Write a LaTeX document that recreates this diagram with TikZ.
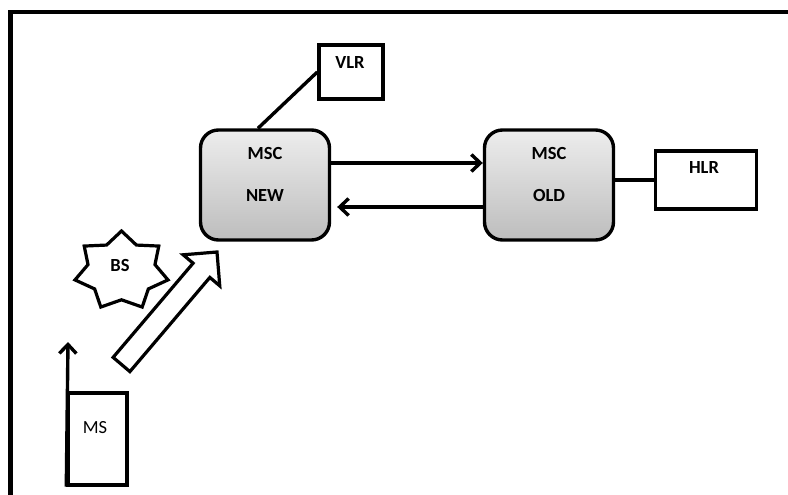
\documentclass[tikz,border=0pt]{standalone}
\usepackage{fontspec}
\setmainfont{Carlito}
\usetikzlibrary{arrows.meta,calc}
\definecolor{gtop}{HTML}{EDEDED}
\definecolor{gbot}{HTML}{BDBDBD}
\tikzset{
  frameline/.style={line width=4.2pt},
  plainbox/.style={draw, line width=3.4pt, fill=white, inner sep=0pt},
  mscbox/.style={draw, line width=3.4pt, rounded corners=18pt, top color=gtop, bottom color=gbot, inner sep=0pt, minimum width=129pt, minimum height=110pt},
  lbl/.style={font=\fontsize{18.5}{22}\selectfont\bfseries, inner sep=0pt},
  lblr/.style={font=\fontsize{18.5}{22}\selectfont, inner sep=0pt},
  conn/.style={line width=3.4pt},
  arr/.style={line width=3.4pt, -{Straight Barb[length=9pt, width=17pt, line width=3.4pt]}},
}
\begin{document}
\begin{tikzpicture}[x=1pt,y=-1pt]
\useasboundingbox (0,0) rectangle (788,495);
% frame
\draw[frameline] (10.5,500) -- (10.5,12) -- (792,12);
% boxes
\node[plainbox, minimum width=64pt, minimum height=54pt] (vlr) at (351,72) {};
\node[lbl] (vlrt) at (350,63) {VLR};
\node[mscbox] (mscnew) at (265,185) {};
\node[lbl] (mscnewa) at (265,153) {MSC};
\node[lbl] (mscnewb) at (265,195.5) {NEW};
\node[mscbox] (mscold) at (549,185) {};
\node[lbl] (mscolda) at (549,153) {MSC};
\node[lbl] (msceldb) at (549,195.5) {OLD};
\node[plainbox, minimum width=101pt, minimum height=58pt] (hlr) at (706,180) {};
\node[lbl] (hlrt) at (704,168) {HLR};
\node[plainbox, minimum width=59pt, minimum height=92pt] (ms) at (97.5,439) {};
\node[lblr] (mst) at (95,428) {MS};
% connectors
\draw[conn] (vlr.west) -- ($(mscnew.north)+(-7,0)$);
\draw[arr] ($(mscnew.east)+(0,-22)$) -- ($(mscold.west)+(0,-22)$);
\draw[arr, shorten >=6pt] ($(mscold.west)+(0,22)$) -- ($(mscnew.east)+(0,22)$);
\draw[conn] (mscold.east |- hlr.west) -- (hlr.west);
\coordinate (up) at (68,342);
\draw[arr] (ms.south west) -- (up);
% BS star
\draw[line width=3.2pt, line join=miter, fill=white] (121.5,231)
  \foreach \i in {1,...,13} {
    -- ({121.5+47.7*(mod(\i,2)==0 ? 1 : 0.72)*sin(\i*180/7)}, {271-40*(mod(\i,2)==0 ? 1 : 0.72)*cos(\i*180/7)})
  } -- cycle;
\node[lbl] (bs) at (120,265) {BS};
% block arrow
\draw[line width=3.2pt, line join=miter, fill=white]
  (129.9,371.6) -- (209.85,277.44) -- (219.76,285.85) -- (217,252)
  -- (183.18,254.79) -- (193.09,263.2) -- (113.12,357.38) -- cycle;
\end{tikzpicture}
\end{document}
